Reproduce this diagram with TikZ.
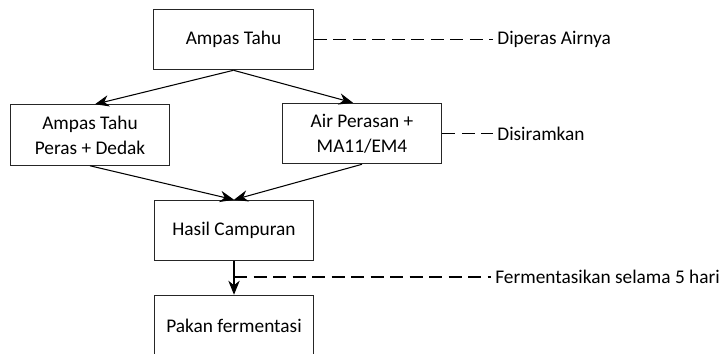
\documentclass[tikz,border=0pt]{standalone}
\usepackage{fontspec}
\setmainfont{Carlito}
\usepackage{tikz}
\usetikzlibrary{arrows.meta, positioning}
\tikzset{>={Stealth[length=8pt,width=6.5pt]}}
\tikzset{
	kotak/.style={draw=black!85, line width=0.6pt, minimum width=3.19cm, minimum height=1.21cm, align=center, font=\fontsize{11}{14.2}\selectfont},
	catatan/.style={anchor=west, inner sep=0.08cm, font=\fontsize{11}{14.2}\selectfont},
	garis/.style={line width=0.6pt, dash pattern=on 0.26cm off 0.13cm}
}

\begin{document}
\begin{tikzpicture}
	\useasboundingbox (0, 0) rectangle (14.56, 7.06);
	\clip (0, 0) rectangle (14.56, 7.06);
	% kotak alur
	\node [kotak] (tahu) at (4.67, 6.27) {Ampas Tahu};
	\node [kotak] (peras) at (1.80, 4.36) {Ampas Tahu\\Peras + Dedak};
	\node [kotak] (air) at (7.24, 4.39) {Air Perasan +\\MA11/EM4};
	\node [kotak] (campur) at (4.68, 2.45) {Hasil Campuran};
	\node [kotak] (pakan) at (4.68, 0.55) {Pakan fermentasi};
	% panah
	\draw [->, line width=0.6pt] (tahu.south)--([xshift=0.1cm]peras.north);
	\draw [->, line width=0.6pt] (tahu.south)--([xshift=-0.18cm]air.north);
	\draw [->, line width=0.6pt] (peras.south)--(campur.north);
	\draw [->, line width=0.6pt] (air.south)--(campur.north);
	\draw [->, line width=0.6pt] (campur.south)--(pakan.north);
	% keterangan
	\node [catatan] (diperas) at (9.86, 6.27) {Diperas Airnya};
	\node [catatan] (siram) at (9.86, 4.39) {Disiramkan};
	\node [catatan] (fermen) at (9.82, 1.52) {Fermentasikan selama 5 hari};
	\coordinate (cabang) at (4.68, 1.52);
	\draw [garis] (tahu.east)--(diperas.west);
	\draw [garis] (air.east)--(siram.west);
	\draw [garis] (cabang)--(fermen.west);
\end{tikzpicture}
\end{document}
